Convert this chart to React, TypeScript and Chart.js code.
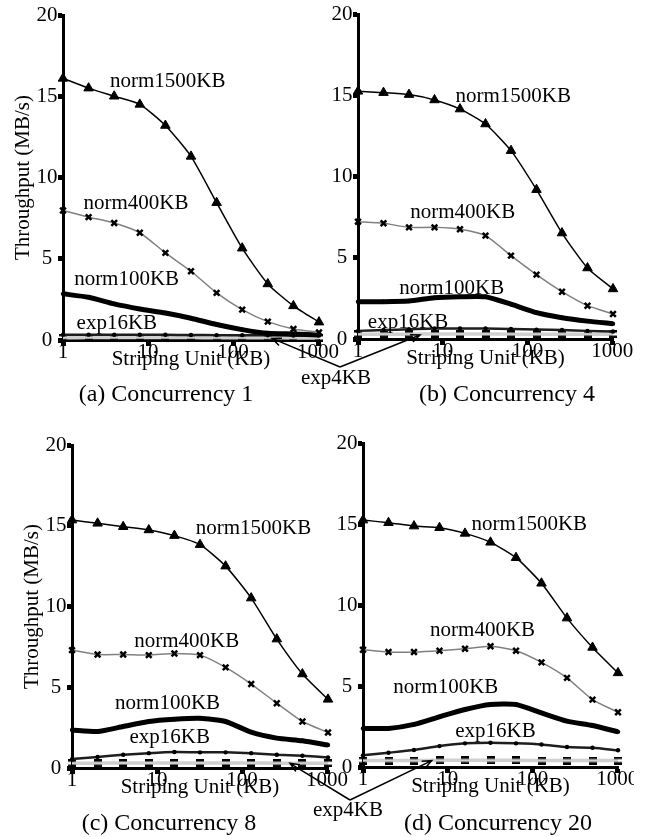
import React, { useEffect, useRef } from "react";
import { Chart, registerables } from "chart.js";

Chart.register(...registerables);

// ---- data -------------------------------------------------------------
const STRIPE_KB = [1, 2, 4, 8, 16, 32, 64, 128, 256, 512, 1024];
const X_TICKS = [1, 10, 100, 1000];
const Y_MIN = 0;
const Y_MAX = 20;
const Y_STEP = 5;

const SERIES_NAMES = ["norm1500KB", "norm400KB", "norm100KB", "exp16KB", "exp4KB"];
const CAPTIONS = ["(a) Concurrency 1", "(b) Concurrency 4", "(c) Concurrency 8", "(d) Concurrency 20"];
const Y_TITLE = "Throughput (MB/s)";
const X_TITLE = "Striping Unit (KB)";

// Concurrency 1
const c1Norm1500 = [16.1, 15.5, 15.0, 14.5, 13.2, 11.3, 8.45, 5.65, 3.45, 2.1, 1.1];
const c1Norm400 = [7.97, 7.56, 7.2, 6.6, 5.36, 4.23, 2.9, 1.87, 1.13, 0.68, 0.47];
const c1Norm100 = [2.84, 2.63, 2.22, 1.91, 1.66, 1.34, 0.95, 0.64, 0.41, 0.37, 0.31];
const c1Exp16 = [0.33, 0.33, 0.32, 0.32, 0.32, 0.31, 0.3, 0.3, 0.29, 0.28, 0.28];
const c1Exp4 = [0.14, 0.15, 0.15, 0.15, 0.15, 0.15, 0.14, 0.14, 0.14, 0.13, 0.13];

// Concurrency 4
const c4Norm1500 = [15.24, 15.16, 15.04, 14.71, 14.15, 13.23, 11.59, 9.19, 6.52, 4.37, 3.08];
const c4Norm400 = [7.22, 7.12, 6.87, 6.87, 6.75, 6.36, 5.13, 3.96, 2.91, 2.05, 1.54];
const c4Norm100 = [2.3, 2.3, 2.34, 2.54, 2.6, 2.6, 2.14, 1.62, 1.31, 1.1, 0.94];
const c4Exp16 = [0.5, 0.55, 0.6, 0.65, 0.65, 0.65, 0.62, 0.58, 0.55, 0.5, 0.46];
const c4Exp4 = [0.3, 0.3, 0.3, 0.31, 0.31, 0.31, 0.3, 0.3, 0.3, 0.3, 0.3];

// Concurrency 8
const c8Norm1500 = [15.35, 15.15, 14.94, 14.74, 14.39, 13.83, 12.5, 10.52, 7.98, 5.82, 4.25];
const c8Norm400 = [7.3, 7.03, 7.03, 6.99, 7.09, 6.99, 6.23, 5.2, 4.01, 2.88, 2.2];
const c8Norm100 = [2.36, 2.26, 2.57, 2.88, 3.02, 3.08, 2.88, 2.22, 1.85, 1.69, 1.42];
const c8Exp16 = [0.55, 0.68, 0.82, 0.92, 0.99, 0.97, 0.97, 0.92, 0.82, 0.76, 0.65];
const c8Exp4 = [0.3, 0.3, 0.31, 0.31, 0.31, 0.31, 0.31, 0.31, 0.3, 0.3, 0.3];

// Concurrency 20
const c20Norm1500 = [15.24, 15.08, 14.87, 14.77, 14.42, 13.87, 12.92, 11.34, 9.19, 7.38, 5.81];
const c20Norm400 = [7.24, 7.1, 7.1, 7.18, 7.3, 7.45, 7.18, 6.46, 5.5, 4.16, 3.38];
const c20Norm100 = [2.38, 2.38, 2.63, 3.1, 3.55, 3.86, 3.86, 3.34, 2.83, 2.56, 2.17];
const c20Exp16 = [0.72, 0.88, 1.05, 1.29, 1.46, 1.5, 1.46, 1.39, 1.23, 1.19, 1.03];
const c20Exp4 = [0.4, 0.4, 0.4, 0.41, 0.41, 0.41, 0.41, 0.4, 0.4, 0.4, 0.4];

// ---- layout -----------------------------------------------------------
const PAGE_W = 645;
const PAGE_H = 837;
const X_AXIS_H = 30;
const FAMILY = "'Liberation Serif', 'Times New Roman', serif";
const TEXT_PX = 21;
const CAPTION_PX = 24;

type Panel = {
  series: number[][];
  caption: string;
  captionX: number;
  captionY: number;
  area: { left: number; top: number; right: number; bottom: number };
  yTitlePad: number | null; // null = no axis title
  yAxisWidth: number;
  labelAt: [number, number][]; // series label anchors, in axis units
  calloutTip: [number, number]; // exp4KB arrow tip, in axis units
  calloutApex: [number, number];
  calloutText: [number, number] | null;
  clipWidth: number;
};

const PANELS: Panel[] = [
  {
    series: [c1Norm1500, c1Norm400, c1Norm100, c1Exp16, c1Exp4],
    caption: CAPTIONS[0],
    captionX: 166,
    captionY: 401,
    area: { left: 63, top: 15, right: 319, bottom: 340 },
    yTitlePad: 12.5,
    yAxisWidth: 63,
    labelAt: [[17, 15.9], [7.2, 8.4], [5.6, 3.75], [4.3, 1.0]],
    calloutTip: [287, 0.1],
    calloutApex: [340, 367],
    calloutText: [336, 384],
    clipWidth: PAGE_W,
  },
  {
    series: [c4Norm1500, c4Norm400, c4Norm100, c4Exp16, c4Exp4],
    caption: CAPTIONS[1],
    captionX: 507,
    captionY: 401,
    area: { left: 358, top: 14, right: 613, bottom: 339 },
    yTitlePad: null,
    yAxisWidth: 40,
    labelAt: [[68, 14.95], [17.2, 7.8], [12.8, 3.08], [3.9, 1.0]],
    calloutTip: [5.4, 0.25],
    calloutApex: [340, 367],
    calloutText: null,
    clipWidth: PAGE_W,
  },
  {
    series: [c8Norm1500, c8Norm400, c8Norm100, c8Exp16, c8Exp4],
    caption: CAPTIONS[2],
    captionX: 169,
    captionY: 830,
    area: { left: 72, top: 445, right: 328, bottom: 768 },
    yTitlePad: 21.5,
    yAxisWidth: 72,
    labelAt: [[136, 14.8], [22.3, 7.84], [13.3, 4.0], [14.1, 1.9]],
    calloutTip: [366, 0.29],
    calloutApex: [350, 800],
    calloutText: [348, 816],
    clipWidth: PAGE_W,
  },
  {
    series: [c20Norm1500, c20Norm400, c20Norm100, c20Exp16, c20Exp4],
    caption: CAPTIONS[3],
    captionX: 498,
    captionY: 830,
    area: { left: 363, top: 443, right: 618, bottom: 767 },
    yTitlePad: null,
    yAxisWidth: 40,
    labelAt: [[92, 15.0], [25.8, 8.45], [9.5, 4.9], [36.7, 2.2]],
    calloutTip: [6.47, 0.39],
    calloutApex: [350, 800],
    calloutText: null,
    clipWidth: 634,
  },
];

// ---- styles -----------------------------------------------------------
function makeEqualsMarker(): HTMLCanvasElement {
  const c = document.createElement("canvas");
  c.width = 8;
  c.height = 8;
  const g = c.getContext("2d")!;
  g.fillStyle = "#000";
  g.fillRect(0, 0, 8, 2.5);
  g.fillRect(0, 5.5, 8, 2.5);
  return c;
}

function seriesStyle(k: number, eq: HTMLCanvasElement) {
  switch (k) {
    case 0:
      return {
        borderColor: "#000", borderWidth: 1.5, pointStyle: "triangle",
        pointRadius: 5.5, pointBackgroundColor: "#000", pointBorderColor: "#000", pointBorderWidth: 1,
      };
    case 1:
      return {
        borderColor: "#808080", borderWidth: 1.5, pointStyle: "crossRot",
        pointRadius: 4, pointBackgroundColor: "#000", pointBorderColor: "#000", pointBorderWidth: 2.5,
      };
    case 2:
      return {
        borderColor: "#000", borderWidth: 5, pointStyle: "circle",
        pointRadius: 2.2, pointBackgroundColor: "#000", pointBorderColor: "#000", pointBorderWidth: 0,
      };
    case 3:
      return {
        borderColor: "#1e1e1e", borderWidth: 2.5, pointStyle: "circle",
        pointRadius: 2.2, pointBackgroundColor: "#000", pointBorderColor: "#000", pointBorderWidth: 0,
      };
    default:
      return {
        borderColor: "#d0d0d0", borderWidth: 3.5, pointStyle: eq,
        pointRadius: 4, pointBackgroundColor: "#000", pointBorderColor: "#000", pointBorderWidth: 0,
      };
  }
}

function drawArrow(ctx: CanvasRenderingContext2D, from: [number, number], to: [number, number]) {
  const [x0, y0] = from;
  const [x1, y1] = to;
  const ang = Math.atan2(y1 - y0, x1 - x0);
  const head = 10;
  const spread = 0.4;
  ctx.beginPath();
  ctx.moveTo(x0, y0);
  ctx.lineTo(x1, y1);
  ctx.moveTo(x1 - head * Math.cos(ang - spread), y1 - head * Math.sin(ang - spread));
  ctx.lineTo(x1, y1);
  ctx.lineTo(x1 - head * Math.cos(ang + spread), y1 - head * Math.sin(ang + spread));
  ctx.stroke();
}

function decorPlugin(p: Panel) {
  return {
    id: "panelDecor",
    afterDraw(chart: any) {
      const { ctx } = chart;
      const xs = chart.scales.x;
      const ys = chart.scales.y;
      ctx.save();
      ctx.fillStyle = "#000";
      ctx.strokeStyle = "#000";
      ctx.font = `${TEXT_PX}px ${FAMILY}`;
      ctx.textAlign = "center";
      ctx.textBaseline = "middle";
      p.labelAt.forEach(([lx, ly], k) => {
        ctx.fillText(SERIES_NAMES[k], xs.getPixelForValue(lx), ys.getPixelForValue(ly));
      });

      // exp4KB callout
      ctx.lineWidth = 1.5;
      const tip: [number, number] = [xs.getPixelForValue(p.calloutTip[0]), ys.getPixelForValue(p.calloutTip[1])];
      drawArrow(ctx, p.calloutApex, tip);
      ctx.textBaseline = "alphabetic";
      if (p.calloutText) {
        ctx.fillText(SERIES_NAMES[4], p.calloutText[0], p.calloutText[1]);
      }

      ctx.font = `${CAPTION_PX}px ${FAMILY}`;
      ctx.fillText(p.caption, p.captionX, p.captionY);
      ctx.restore();
    },
  };
}

function buildConfig(p: Panel, eq: HTMLCanvasElement): any {
  const font = { family: FAMILY, size: TEXT_PX, lineHeight: 1 };
  const { left, top, right, bottom } = p.area;
  return {
    type: "line",
    data: {
      datasets: p.series.map((vals, k) => ({
        label: SERIES_NAMES[k],
        data: STRIPE_KB.map((x, j) => ({ x, y: vals[j] })),
        tension: 0.2,
        clip: false,
        ...seriesStyle(k, eq),
      })),
    },
    options: {
      animation: false,
      responsive: false,
      devicePixelRatio: 1,
      events: [],
      layout: {
        padding: {
          left: left - p.yAxisWidth,
          top,
          right: PAGE_W - right,
          bottom: PAGE_H - bottom - X_AXIS_H,
        },
      },
      plugins: { legend: { display: false }, tooltip: { enabled: false }, title: { display: false } },
      scales: {
        x: {
          type: "logarithmic",
          min: STRIPE_KB[0],
          max: STRIPE_KB[STRIPE_KB.length - 1],
          afterBuildTicks: (s: any) => {
            s.ticks = X_TICKS.map((v) => ({ value: v }));
          },
          afterFit: (s: any) => {
            s.height = X_AXIS_H;
          },
          ticks: {
            font, color: "#000", padding: -4.5, maxRotation: 0, minRotation: 0, autoSkip: false,
            callback: (v: number) => String(v),
          },
          grid: {
            display: true, drawOnChartArea: false, drawTicks: true,
            tickLength: 6, tickWidth: 5, tickColor: "#000",
          },
          border: { display: true, width: 3, color: "#000" },
          title: { display: true, text: X_TITLE, font, color: "#000", padding: { top: 0, bottom: 0 } },
        },
        y: {
          type: "linear",
          min: Y_MIN,
          max: Y_MAX,
          afterFit: (s: any) => {
            s.width = p.yAxisWidth;
          },
          ticks: { stepSize: Y_STEP, font, color: "#000", crossAlign: "center", padding: 0.5 },
          grid: {
            display: true, drawOnChartArea: false, drawTicks: true,
            tickLength: 5, tickWidth: 5, tickColor: "#000",
          },
          border: { display: true, width: 3, color: "#000" },
          title: {
            display: p.yTitlePad !== null,
            text: Y_TITLE,
            font,
            color: "#000",
            padding: { top: p.yTitlePad ?? 0, bottom: 0 },
          },
        },
      },
    },
    plugins: [decorPlugin(p)],
  };
}

export default function App() {
  const canvases = useRef<(HTMLCanvasElement | null)[]>([]);

  useEffect(() => {
    const eq = makeEqualsMarker();
    const charts = PANELS.map((p, i) => new Chart(canvases.current[i]!, buildConfig(p, eq)));
    return () => charts.forEach((c) => c.destroy());
  }, []);

  return (
    <div style={{ position: "absolute", left: 0, top: 0, width: PAGE_W, height: PAGE_H, background: "#fff", overflow: "hidden" }}>
      {PANELS.map((p, i) => (
        <div
          key={i}
          style={{ position: "absolute", left: 0, top: 0, width: p.clipWidth, height: PAGE_H, overflow: "hidden" }}
        >
          <canvas
            ref={(el) => {
              canvases.current[i] = el;
            }}
            width={PAGE_W}
            height={PAGE_H}
            style={{ display: "block" }}
          />
        </div>
      ))}
    </div>
  );
}
